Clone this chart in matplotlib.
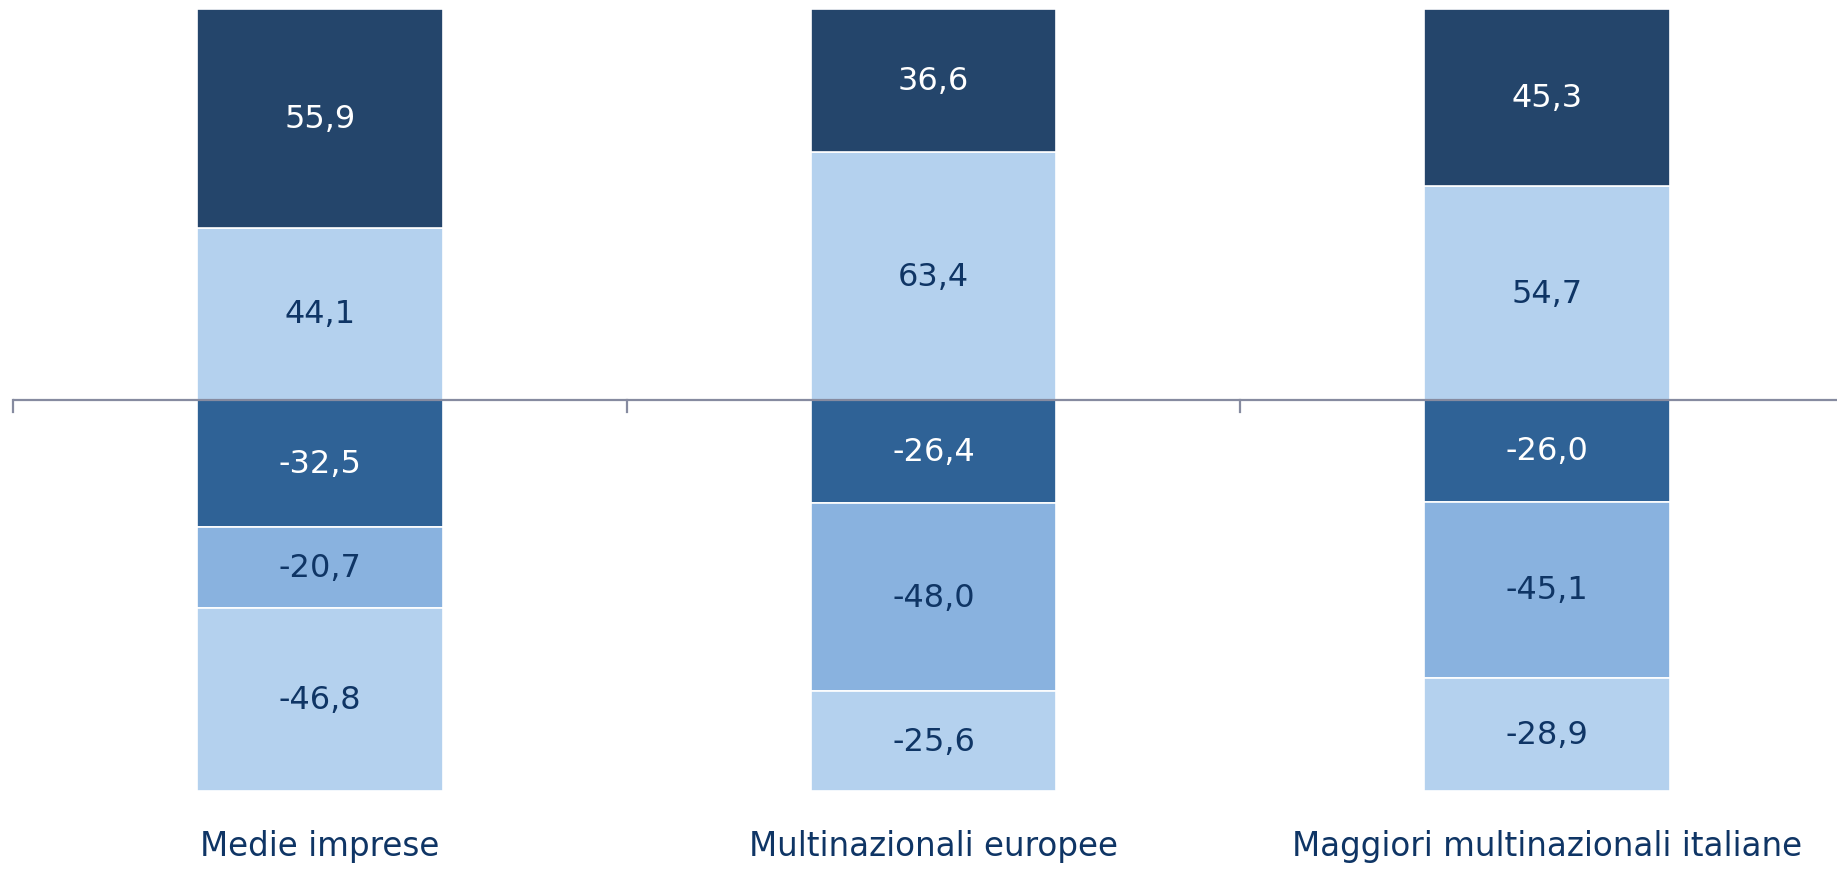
import matplotlib
matplotlib.use("Agg")
import matplotlib.pyplot as plt
import numpy as np

categories = ["Medie imprese", "Multinazionali europee", "Maggiori multinazionali italiane"]

# positive segments (bottom -> top)
pos_light = [44.1, 63.4, 54.7]
pos_dark = [55.9, 36.6, 45.3]
# negative segments (from zero downwards)
neg_mid = [-32.5, -26.4, -26.0]
neg_medium = [-20.7, -48.0, -45.1]
neg_light = [-46.8, -25.6, -28.9]

DARK = "#24456B"
LIGHT = "#B4D1EE"
MID = "#2F6296"
MEDIUM = "#89B2DF"
TEXT = "#0F3565"
AXIS = "#868BA0"

W, H, DPI = 1837, 870, 100
fig = plt.figure(figsize=(W / DPI, H / DPI), dpi=DPI)
# axes slightly wider than the figure, as in the original
left, right = 13, 1854
top, bottom = 10, 796
ax = fig.add_axes([left / W, 1 - bottom / H, (right - left) / W, (bottom - top) / H])

x = np.arange(len(categories))
width = 0.4


def stack(ax, vals, base, color, txtcolor):
    bars = ax.bar(x, vals, width, bottom=base, color=color, edgecolor="white",
                  linewidth=1.2, zorder=2)
    for b, v, b0 in zip(bars, vals, base):
        ax.text(b.get_x() + b.get_width() / 2, b0 + v / 2,
                f"{v:.1f}".replace(".", ","), ha="center", va="center",
                fontsize=23, color=txtcolor, zorder=3)


zero = np.zeros(len(x))
stack(ax, pos_light, zero, LIGHT, TEXT)
stack(ax, pos_dark, np.array(pos_light), DARK, "white")
stack(ax, neg_mid, zero, MID, "white")
stack(ax, neg_medium, np.array(neg_mid), MEDIUM, TEXT)
stack(ax, neg_light, np.array(neg_mid) + np.array(neg_medium), LIGHT, TEXT)

ax.set_xlim(-0.5, len(x) - 0.5)
ax.set_ylim(-101, 100)

for s in ["top", "right", "bottom", "left"]:
    ax.spines[s].set_visible(False)
ax.axhline(0, color=AXIS, linewidth=1.6, zorder=4)
for b in [-0.5, 0.5, 1.5]:
    ax.plot([b, b], [0, -3], color=AXIS, linewidth=1.6, zorder=4, clip_on=False)

ax.set_yticks([])
ax.set_xticks([])
for xi, lab in zip(x, categories):
    ax.text(xi, -113.8, lab, ha="center", va="center", fontsize=23.5, color=TEXT)

fig.savefig("out.png", dpi=DPI)
